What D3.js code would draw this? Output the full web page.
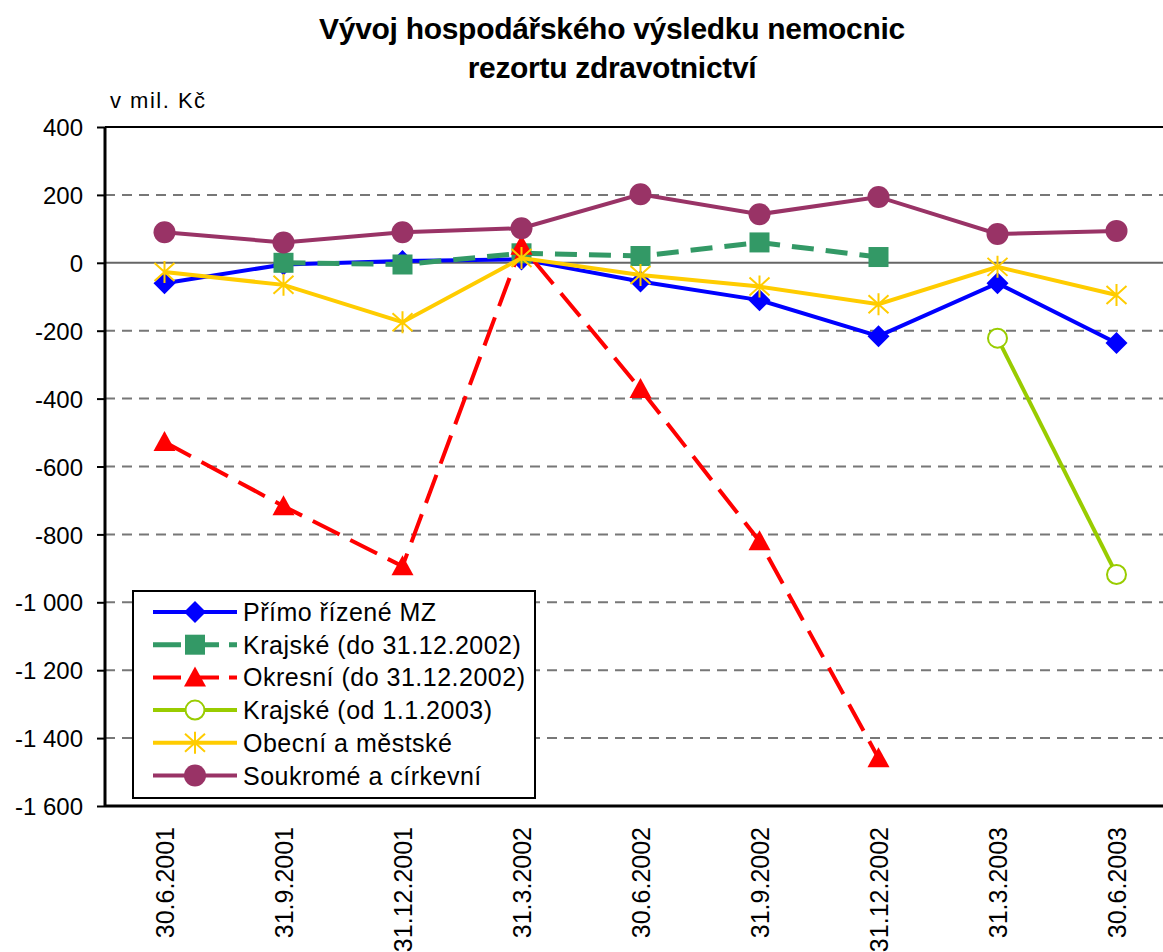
<!DOCTYPE html>
<html>
<head>
<meta charset="utf-8">
<script src="https://cdn.jsdelivr.net/npm/d3@7"></script>
<style>
  body { margin: 0; background: #fff; }
  text { font-family: "Liberation Sans", Arial, sans-serif; fill: #000; }
</style>
</head>
<body>
<svg id="chart"></svg>
<script>
// data (mil. Kč)
var dates = ["30.6.2001", "31.9.2001", "31.12.2001", "31.3.2002", "30.6.2002", "31.9.2002", "31.12.2002", "31.3.2003", "30.6.2003"];
var primoMZ   = [-60, -5, 5, 10, -55, -110, -216, -60, -236];
var krajskeDo = [null, 0, -5, 28, 20, 60, 17, null, null];
var okresni   = [-528, -717, -894, 50, -372, -820, -1459, null, null];
var krajskeOd = [null, null, null, null, null, null, null, -222, -918];
var obecni    = [-27, -65, -175, 14, -36, -70, -122, -12, -95];
var soukrome  = [90, 60, 90, 102, 202, 143, 194, 85, 94];
var yTicks = [400, 200, 0, -200, -400, -600, -800, -1000, -1200, -1400, -1600];

var series = [
  {name: "Přímo řízené MZ", values: primoMZ, color: "#0000ff", width: 4, dash: null, marker: "diamond"},
  {name: "Krajské (do 31.12.2002)", values: krajskeDo, color: "#339966", width: 5, dash: "22,12", marker: "square"},
  {name: "Okresní (do 31.12.2002)", values: okresni, color: "#ff0000", width: 4, dash: "30,12", marker: "triangle"},
  {name: "Krajské (od 1.1.2003)", values: krajskeOd, color: "#99cc00", width: 4, dash: null, marker: "ring"},
  {name: "Obecní a městské", values: obecni, color: "#ffcc00", width: 4, dash: null, marker: "star"},
  {name: "Soukromé a církevní", values: soukrome, color: "#993366", width: 4, dash: null, marker: "circle"}
];

var screen = {width: 1163, height: 952};
var margins = {top: 127, left: 105, bottom: 146};
var graph = {width: 1071, height: screen.height - margins.top - margins.bottom};

var svg = d3.select("#chart")
  .attr("width", screen.width)
  .attr("height", screen.height);

var xScale = d3.scaleBand().domain(dates).range([0, graph.width]).padding(0);
var yScale = d3.scaleLinear().domain([-1600, 400]).range([graph.height, 0]);
var xPos = function(d) { return xScale(d) + xScale.bandwidth() / 2; };

var loc = d3.formatLocale({decimal: ",", thousands: " ", grouping: [3], currency: ["", " Kč"], minus: "-"});
var fmt = loc.format(",d");

var g = svg.append("g")
  .attr("transform", "translate(" + margins.left + "," + margins.top + ")");

// gridlines
g.append("g").selectAll("line")
  .data(yTicks.filter(function(t) { return t != 400 && t != -1600; }))
  .enter().append("line")
  .attr("x1", 0).attr("x2", graph.width)
  .attr("y1", function(d) { return yScale(d); })
  .attr("y2", function(d) { return yScale(d); })
  .attr("stroke", function(d) { return d == 0 ? "#666" : "#777"; })
  .attr("stroke-width", 2)
  .attr("stroke-dasharray", function(d) { return d == 0 ? null : "10,7"; });

// plot border top
g.append("line")
  .attr("x1", 0).attr("x2", graph.width).attr("y1", 0).attr("y2", 0)
  .attr("stroke", "#000").attr("stroke-width", 2);

// y axis
var yAxis = d3.axisLeft(yScale).tickValues(yTicks).tickFormat(fmt).tickSize(8).tickPadding(14);
var ya = g.append("g").call(yAxis);
ya.select(".domain").attr("stroke-width", 3).attr("d", "M0,0V" + graph.height);
ya.selectAll(".tick line").attr("stroke-width", 2);
ya.selectAll("text").style("font-size", "24px").attr("dy", "0.36em");

// x axis
var xAxis = d3.axisBottom(xScale).tickSize(0);
var xa = g.append("g")
  .attr("transform", "translate(0," + graph.height + ")")
  .call(xAxis);
xa.select(".domain").attr("stroke-width", 3).attr("d", "M0,0H" + graph.width);
xa.selectAll("text")
  .style("font-size", "25px")
  .attr("transform", "rotate(-90)")
  .attr("text-anchor", "end")
  .attr("x", -21)
  .attr("y", 0)
  .attr("dy", "0.36em");

// markers
var drawMarker = function(sel, type, color) {
  if (type == "diamond") {
    sel.append("path").attr("d", "M0,-11L11,0L0,11L-11,0Z").attr("fill", color);
  } else if (type == "square") {
    sel.append("rect").attr("x", -10).attr("y", -10).attr("width", 20).attr("height", 20).attr("fill", color);
  } else if (type == "triangle") {
    sel.append("path").attr("d", "M0,-11L11,9L-11,9Z").attr("fill", color);
  } else if (type == "ring") {
    sel.append("circle").attr("r", 9.5).attr("fill", "#fff").attr("stroke", color).attr("stroke-width", 2);
  } else if (type == "star") {
    sel.append("path").attr("d", "M0,-11V11M-10,-9L10,9M-10,9L10,-9")
      .attr("stroke", color).attr("stroke-width", 2).attr("fill", "none");
  } else if (type == "circle") {
    sel.append("circle").attr("r", 11).attr("fill", color);
  }
};

var lineGenerator = d3.line()
  .defined(function(v) { return v != null; })
  .x(function(v, i) { return xPos(dates[i]); })
  .y(function(v) { return yScale(v); });

series.forEach(function(s) {
  var sg = g.append("g").classed("series", true);
  sg.append("path")
    .datum(s.values)
    .attr("d", lineGenerator)
    .attr("fill", "none")
    .attr("stroke", s.color)
    .attr("stroke-width", s.width)
    .attr("stroke-dasharray", s.dash);
  sg.selectAll("g.mk")
    .data(s.values.map(function(v, i) { return {v: v, d: dates[i]}; }).filter(function(p) { return p.v != null; }))
    .enter().append("g")
    .classed("mk", true)
    .attr("transform", function(p) { return "translate(" + xPos(p.d) + "," + yScale(p.v) + ")"; })
    .each(function() { drawMarker(d3.select(this), s.marker, s.color); });
});

// titles
svg.append("text")
  .text("Vývoj hospodářského výsledku nemocnic")
  .attr("x", 612).attr("y", 39)
  .attr("text-anchor", "middle")
  .style("font-size", "30px").style("font-weight", "bold").style("letter-spacing", "-0.3px");
svg.append("text")
  .text("rezortu zdravotnictví")
  .attr("x", 612).attr("y", 78)
  .attr("text-anchor", "middle")
  .style("font-size", "30px").style("font-weight", "bold").style("letter-spacing", "-0.3px");
svg.append("text")
  .text("v mil. Kč")
  .attr("x", 110).attr("y", 108)
  .style("font-size", "22px").style("letter-spacing", "1.5px");

// legend
var legend = svg.append("g").attr("transform", "translate(133,591)");
legend.append("rect")
  .attr("x", 0).attr("y", 0).attr("width", 402).attr("height", 207)
  .attr("fill", "#fff").attr("stroke", "#000").attr("stroke-width", 2);
series.forEach(function(s, i) {
  var row = legend.append("g").attr("transform", "translate(0," + (21 + i * 32.7) + ")");
  row.append("line")
    .attr("x1", 20).attr("x2", 104).attr("y1", 0).attr("y2", 0)
    .attr("stroke", s.color).attr("stroke-width", s.width)
    .attr("stroke-dasharray", s.dash ? "28,10" : null);
  var m = row.append("g").attr("transform", "translate(62,0)");
  drawMarker(m, s.marker, s.color);
  row.append("text")
    .text(s.name)
    .attr("x", 110).attr("y", 0).attr("dy", "0.36em")
    .style("font-size", "25px").style("letter-spacing", "0.5px");
});
</script>
</body>
</html>
